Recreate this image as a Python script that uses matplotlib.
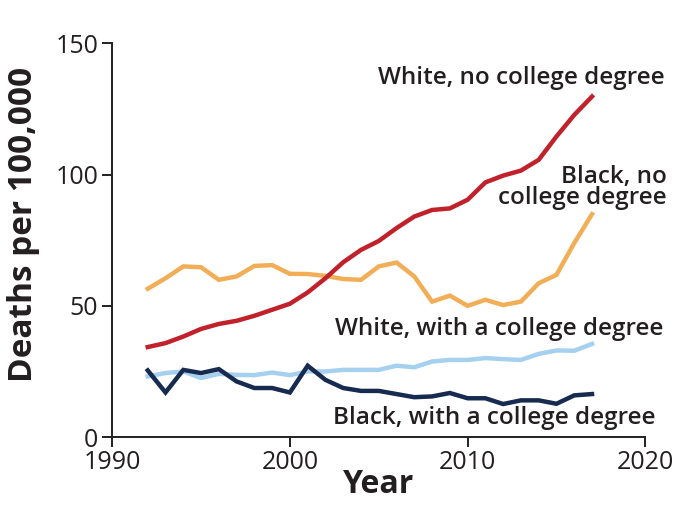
#!/usr/bin/env python3
"""Overdose deaths per 100,000 by race and education."""

import matplotlib
matplotlib.use("Agg")
import matplotlib.pyplot as plt

YEARS = list(range(1992, 2018))

WHITE_NO_COLLEGE = [34.3, 35.8, 38.3, 41.2, 43.1, 44.3, 46.2, 48.5, 50.8, 55.1,
                    60.5, 66.6, 71.3, 74.7, 79.6, 84.0, 86.5, 87.1, 90.4, 97.0,
                    99.6, 101.5, 105.6, 114.5, 122.7, 129.7]
BLACK_NO_COLLEGE = [56.5, 60.5, 65.0, 64.7, 59.9, 61.2, 65.2, 65.5, 62.2, 62.1,
                    61.4, 60.2, 59.9, 65.0, 66.5, 61.2, 51.6, 53.9, 50.0, 52.3,
                    50.3, 51.6, 58.6, 61.8, 73.9, 84.9]
WHITE_COLLEGE = [23.1, 24.4, 25.0, 22.5, 24.1, 23.7, 23.6, 24.6, 23.6, 25.0,
                 25.0, 25.6, 25.6, 25.6, 27.2, 26.6, 28.8, 29.4, 29.4, 30.1,
                 29.7, 29.4, 31.7, 33.0, 32.9, 35.5]
BLACK_COLLEGE = [25.4, 17.0, 25.6, 24.4, 25.9, 21.2, 18.7, 18.7, 17.0, 27.2,
                 21.8, 18.7, 17.6, 17.6, 16.4, 15.2, 15.5, 16.8, 14.8, 14.8,
                 12.6, 14.0, 14.0, 12.7, 15.9, 16.4]

X_TICKS = [1990, 2000, 2010, 2020]
Y_TICKS = [0, 50, 100, 150]

TEXT = "#231f20"

plt.rcParams["font.family"] = ["Open Sans", "DejaVu Sans"]

fig = plt.figure(figsize=(6.8, 5.21), dpi=100)
ax = fig.add_axes([0.165, 0.161, 0.784, 0.756])

ax.plot(YEARS, BLACK_NO_COLLEGE, color="#f2ae57", lw=3.2, solid_joinstyle="miter")
ax.plot(YEARS, WHITE_NO_COLLEGE, color="#c0212b", lw=3.2, solid_joinstyle="miter")
ax.plot(YEARS, WHITE_COLLEGE, color="#a6d0ef", lw=3.2, solid_joinstyle="miter")
ax.plot(YEARS, BLACK_COLLEGE, color="#172a4f", lw=3.2, solid_joinstyle="miter")

ax.set_xlim(1990, 2020)
ax.set_ylim(0, 150)
ax.set_xticks(X_TICKS)
ax.set_yticks(Y_TICKS)
for side in ("top", "right"):
    ax.spines[side].set_visible(False)
for side in ("left", "bottom"):
    ax.spines[side].set_linewidth(1.4)
    ax.spines[side].set_color(TEXT)
ax.tick_params(axis="both", length=7, width=1.4, color=TEXT, labelsize=18,
               labelcolor=TEXT)
ax.tick_params(axis="x", pad=2.5)
ax.tick_params(axis="y", pad=3)
for lbl in ax.get_yticklabels():
    lbl.set_verticalalignment("center_baseline")

ax.set_xlabel("Year", fontsize=23, fontweight="bold", color=TEXT, labelpad=-5)
ax.set_ylabel("Deaths per 100,000", fontsize=24, fontweight="bold", color=TEXT)
ax.yaxis.set_label_coords(-0.135, 0.54)

label_kw = dict(ha="right", va="center", fontsize=17.5, fontweight="semibold",
                color=TEXT, clip_on=False)
ax.text(2021.1, 136.7, "White, no college degree", **label_kw)
ax.text(2021.2, 95.0, "Black, no\ncollege degree", multialignment="right",
        linespacing=0.85, **label_kw)
ax.text(2021.0, 41.1, "White, with a college degree", **label_kw)
ax.text(2020.6, 7.2, "Black, with a college degree", **label_kw)

fig.savefig("out.png", dpi=100)
plt.close(fig)
